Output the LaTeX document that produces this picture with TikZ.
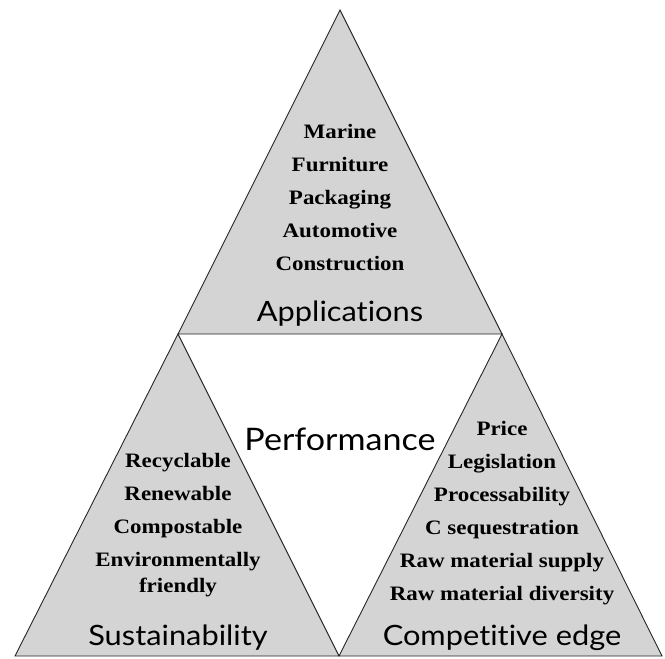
\documentclass[tikz,border=0pt]{standalone}
\usepackage{fontspec}
\setmainfont[FakeStretch=1.12]{Liberation Serif}
\newfontfamily\headfont[FakeStretch=1.1,Ligatures={NoCommon,NoDiscretionary}]{Lato}
\definecolor{trigray}{RGB}{212,212,212}
\tikzset{
    tri/.style={fill=trigray,draw=black!85,line width=0.9pt,line join=miter},
    items/.style={align=center,font=\fontsize{20.5}{33}\selectfont\bfseries},
    heading/.style={font=\headfont\fontsize{28}{30}\selectfont}
}
\begin{document}
\begin{tikzpicture}[x=1pt,y=-1pt]
    \useasboundingbox (0,0) rectangle (665,659);
    \coordinate (T) at (340,10);
    \coordinate (L) at (178,334);
    \coordinate (R) at (502,334);
    \coordinate (BL) at (15,656);
    \coordinate (BM) at (339,656);
    \coordinate (BR) at (662,656);

    \draw[tri] (T) -- (R) -- (L) -- cycle;
    \draw[tri] (L) -- (BM) -- (BL) -- cycle;
    \draw[tri] (R) -- (BR) -- (BM) -- cycle;

    \begin{scope}[every node/.style={items}]
        \node (apps) at (340,198) {Marine\\Furniture\\Packaging\\Automotive\\Construction};
        \node (sust) at (178,525) {Recyclable\\Renewable\\Compostable\\Environmentally\\[-7pt]friendly};
        \node (comp) at (502,513) {Price\\Legislation\\Processability\\C sequestration\\Raw material supply\\Raw material diversity};
    \end{scope}

    \begin{scope}[every node/.style={heading}]
        \node (appsT) at (340,314) {Applications};
        \node (sustT) at (178,638) {Sustainability};
        \node (compT) at (502,638) {Competitive edge};
        \node[font=\headfont\fontsize{31}{33}\selectfont] (perf) at (340,439) {Performance};
    \end{scope}
\end{tikzpicture}
\end{document}
